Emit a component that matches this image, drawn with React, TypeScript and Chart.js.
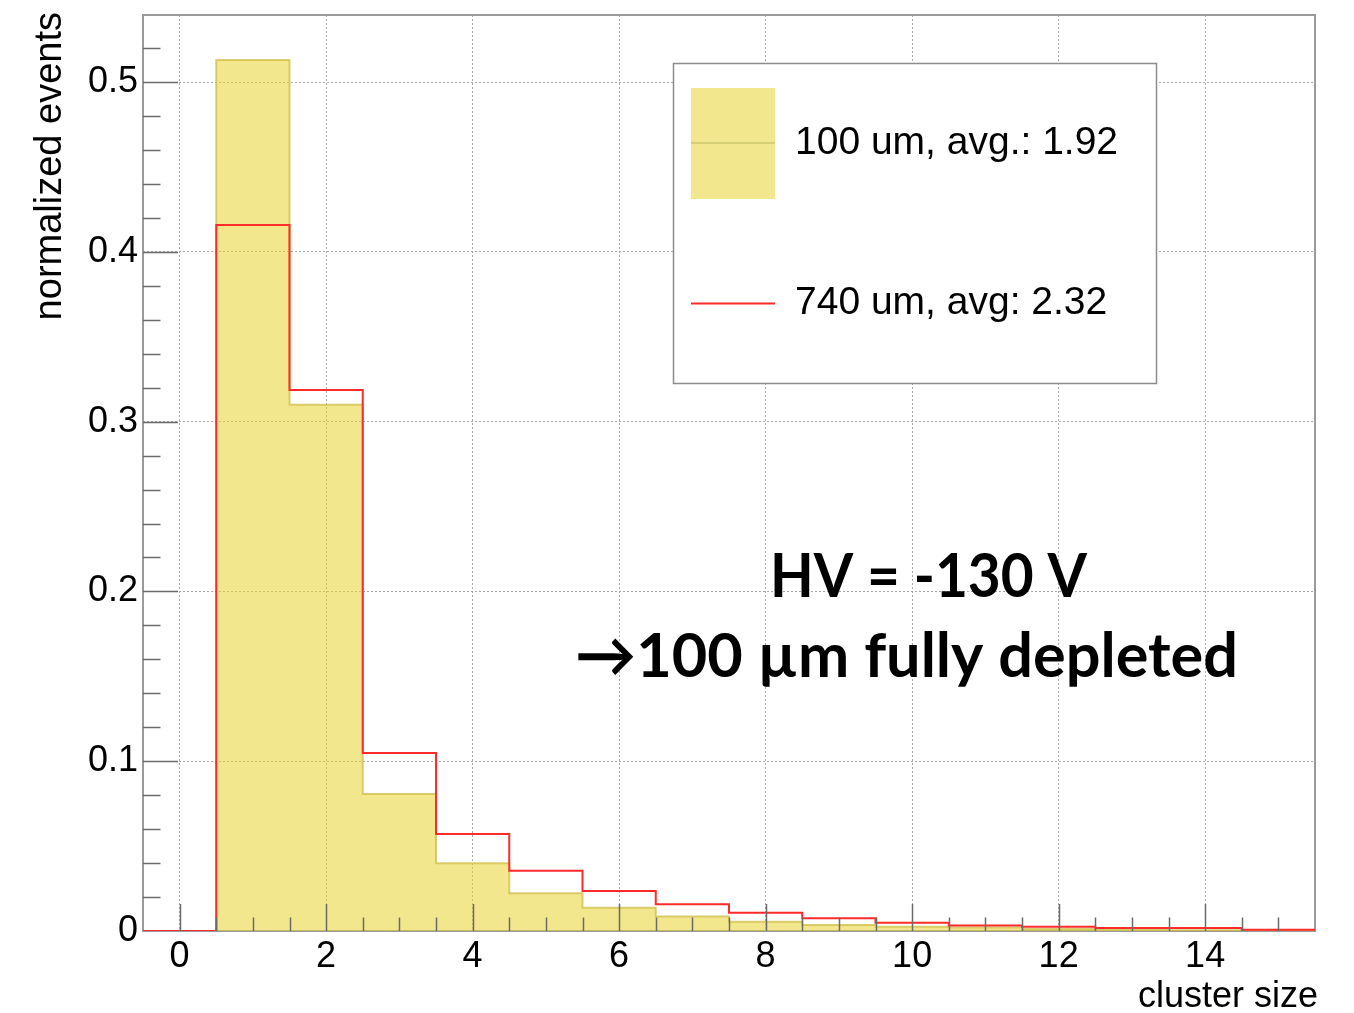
import React, { useEffect, useRef } from "react";
import { Chart, registerables } from "chart.js";

Chart.register(...registerables);

// ---- data ----
const binCenters = [0, 1, 2, 3, 4, 5, 6, 7, 8, 9, 10, 11, 12, 13, 14, 15];
const thin100um = [0, 0.513, 0.31, 0.0807, 0.0399, 0.0222, 0.0137, 0.0086, 0.0055, 0.0035, 0.0025, 0.002, 0.0012, 0.0008, 0.0005, 0.0003];
const thick740um = [0, 0.4158, 0.3186, 0.1048, 0.0571, 0.0355, 0.0236, 0.0157, 0.0108, 0.0075, 0.0049, 0.0033, 0.0025, 0.0018, 0.0018, 0.0008];
const xTickValues = [0, 2, 4, 6, 8, 10, 12, 14];
const yTickValues = [0, 0.1, 0.2, 0.3, 0.4, 0.5];
const yTickLabels = ["0", "0.1", "0.2", "0.3", "0.4", "0.5"];
const legendLabels = ["100 um, avg.: 1.92", "740 um, avg: 2.32"];
const xTitle = "cluster size";
const yTitle = "normalized events";
const noteLines = ["HV = -130 V", "\u2192100 \u00b5m fully depleted"];

const X_MIN = -0.5;
const X_MAX = 15.5;
const Y_MAX = 0.5395;

const FONT = '"Liberation Sans", Arial, Helvetica, sans-serif';
const YELLOW_FILL = "rgba(233,212,50,0.556)";
const YELLOW_LINE = "rgba(205,190,70,0.75)";
const RED = "#ff2b2b";

function histPoints(values: number[]) {
  const pts: { x: number; y: number }[] = [];
  binCenters.forEach((c, i) => {
    pts.push({ x: c - 0.5, y: values[i] });
    pts.push({ x: c + 0.5, y: values[i] });
  });
  return pts;
}

const decorPlugin = {
  id: "rootDecor",
  beforeDatasetsDraw(chart: any) {
    const { ctx, chartArea: a } = chart;
    ctx.save();
    ctx.strokeStyle = "#9a9a9a";
    ctx.lineWidth = 2;
    ctx.strokeRect(a.left, a.top, a.right - a.left, a.bottom - a.top);
    ctx.restore();
  },
  afterDatasetsDraw(chart: any) {
    const { ctx, chartArea: a, scales } = chart;
    const x = scales.x;
    const y = scales.y;
    ctx.save();
    ctx.strokeStyle = "#6a6a6a";
    ctx.lineWidth = 1.5;
    // y ticks (inside, from left frame)
    for (let i = 0; i <= 27; i++) {
      const v = i / 50;
      const py = Math.round(y.getPixelForValue(v)) + 0.5;
      if (py < a.top + 1 || py > a.bottom - 1) continue;
      const len = i % 5 === 0 ? 35 : 17.5;
      ctx.beginPath();
      ctx.moveTo(a.left, py);
      ctx.lineTo(a.left + len, py);
      ctx.stroke();
    }
    // x ticks (inside, from bottom frame)
    for (let i = 0; i <= 32; i++) {
      const v = X_MIN + i * 0.5;
      const px = Math.round(x.getPixelForValue(v)) + 0.5;
      if (px < a.left + 1 || px > a.right - 1) continue;
      const major = Number.isInteger(v) && v % 2 === 0;
      const len = major ? 27 : 13.5;
      ctx.beginPath();
      ctx.moveTo(px, a.bottom);
      ctx.lineTo(px, a.bottom - len);
      ctx.stroke();
    }
    ctx.restore();
  },
  afterDraw(chart: any) {
    const { ctx } = chart;
    ctx.save();
    // axis titles
    ctx.fillStyle = "#000";
    ctx.font = `38px ${FONT}`;
    ctx.textBaseline = "alphabetic";
    ctx.save();
    ctx.translate(61, 12);
    ctx.rotate(-Math.PI / 2);
    ctx.textAlign = "right";
    ctx.fillText(yTitle, 0, 0);
    ctx.restore();
    ctx.font = `36px ${FONT}`;
    ctx.textAlign = "right";
    ctx.fillText(xTitle, 1318, 1007);

    // legend
    ctx.fillStyle = "#fff";
    ctx.fillRect(673, 63, 484, 320);
    ctx.strokeStyle = "#8c8c8c";
    ctx.lineWidth = 1.5;
    ctx.strokeRect(673.5, 63.5, 483, 320);
    ctx.fillStyle = YELLOW_FILL;
    ctx.fillRect(691, 88, 84, 111);
    ctx.strokeStyle = "rgba(150,150,60,0.6)";
    ctx.lineWidth = 1;
    ctx.beginPath();
    ctx.moveTo(691, 143);
    ctx.lineTo(775, 143);
    ctx.stroke();
    ctx.strokeStyle = RED;
    ctx.lineWidth = 2;
    ctx.beginPath();
    ctx.moveTo(691, 303.5);
    ctx.lineTo(775, 303.5);
    ctx.stroke();
    ctx.fillStyle = "#000";
    ctx.font = `39px ${FONT}`;
    ctx.textAlign = "left";
    ctx.fillText(legendLabels[0], 795, 154);
    ctx.fillText(legendLabels[1], 795, 314);

    // annotation
    ctx.font = `bold 62px Lato, "Open Sans", sans-serif`;
    ctx.fillText(noteLines[0], 770, 597, 317);
    ctx.fillText(noteLines[1], 575, 677, 663);
    ctx.restore();
  },
};

export default function App() {
  const ref = useRef<HTMLCanvasElement | null>(null);
  useEffect(() => {
    document.body.style.margin = "0";
    const canvas = ref.current;
    if (!canvas) return;
    const chart = new Chart(canvas, {
      type: "line",
      data: {
        datasets: [
          {
            label: legendLabels[0],
            data: histPoints(thin100um),
            borderColor: YELLOW_LINE,
            backgroundColor: YELLOW_FILL,
            borderWidth: 2,
            fill: "origin",
            pointRadius: 0,
            tension: 0,
            order: 2,
          },
          {
            label: legendLabels[1],
            data: histPoints(thick740um),
            borderColor: RED,
            backgroundColor: "transparent",
            borderWidth: 2,
            fill: false,
            pointRadius: 0,
            tension: 0,
            order: 1,
          },
        ],
      },
      options: {
        animation: false,
        responsive: false,
        devicePixelRatio: 1,
        parsing: false as any,
        normalized: true,
        layout: { padding: { left: 0, top: 15, right: 39, bottom: 0 } },
        plugins: {
          legend: { display: false },
          tooltip: { enabled: false },
          title: { display: false },
        },
        scales: {
          x: {
            type: "linear",
            min: X_MIN,
            max: X_MAX,
            afterBuildTicks: (s: any) => {
              s.ticks = xTickValues.map((v) => ({ value: v }));
            },
            afterFit: (s: any) => {
              s.height = 82;
              s.paddingLeft = 0;
              s.paddingRight = 0;
            },
            border: { display: false, dash: [2, 2] },
            grid: { color: "#a8a8a8", lineWidth: 1, drawTicks: false },
            ticks: {
              autoSkip: false,
              maxRotation: 0,
              padding: 4,
              color: "#000",
              font: { family: FONT, size: 36 },
              callback: (v: any) => String(v),
            },
          },
          y: {
            type: "linear",
            min: 0,
            max: Y_MAX,
            afterBuildTicks: (s: any) => {
              s.ticks = yTickValues.map((v) => ({ value: v }));
            },
            afterFit: (s: any) => {
              s.width = 143;
              s.paddingTop = 0;
              s.paddingBottom = 0;
            },
            border: { display: false, dash: [2, 2] },
            grid: { color: "#a8a8a8", lineWidth: 1, drawTicks: false },
            ticks: {
              autoSkip: false,
              padding: 5,
              color: "#000",
              font: { family: FONT, size: 36 },
              callback: (v: any) => {
                const idx = yTickValues.findIndex((t) => Math.abs(t - Number(v)) < 1e-9);
                return idx >= 0 ? yTickLabels[idx] : "";
              },
            },
          },
        },
      } as any,
      plugins: [decorPlugin],
    });
    return () => chart.destroy();
  }, []);
  return (
    <div style={{ width: 1354, height: 1013, background: "#fff" }}>
      <canvas ref={ref} width={1354} height={1013} style={{ display: "block", width: 1354, height: 1013 }} />
    </div>
  );
}
